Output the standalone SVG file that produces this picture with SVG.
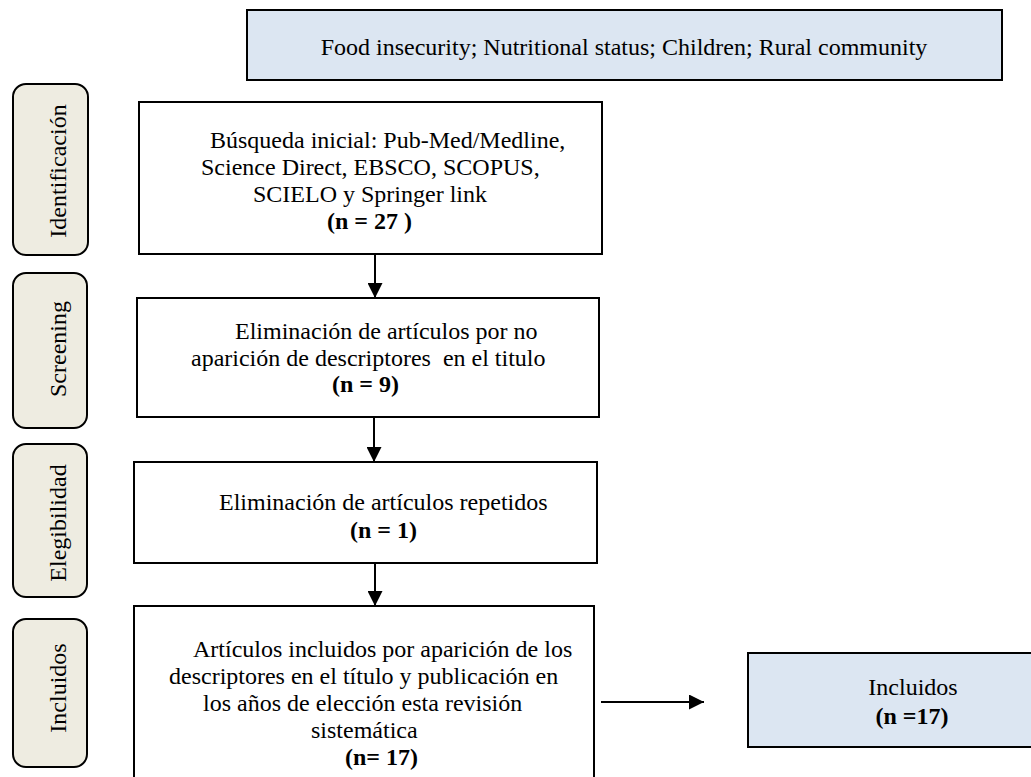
<svg xmlns="http://www.w3.org/2000/svg" width="1031" height="777" viewBox="0 0 1031 777">
<defs>
<style>
text{font-family:"Liberation Serif","Times New Roman",serif;font-size:24px;fill:#000}
.b{font-weight:bold}
.m{text-anchor:middle}
.box{fill:#fff;stroke:#000;stroke-width:2}
.blue{fill:#DCE6F2;stroke:#000;stroke-width:2}
.phase{fill:#EEECE1;stroke:#000;stroke-width:2}
.con{stroke:#000;stroke-width:2;fill:none}
</style>
<marker id="ah" markerWidth="15" markerHeight="15" refX="15" refY="7.5" orient="auto" markerUnits="userSpaceOnUse" viewBox="0 0 15 15">
<path d="M0,0 L15,7.5 L0,15 Z" fill="#000"/>
</marker>
</defs>
<g id="keywords">
<rect class="blue" x="247" y="10" width="755" height="70"/>
<text x="624" y="55" class="m">Food insecurity; Nutritional status; Children; Rural community</text>
</g>
<g id="phase-identificacion">
<rect class="phase" x="13" y="84" width="75" height="171" rx="13"/>
<text class="m" transform="translate(66,171) rotate(-90)">Identificación</text>
</g>
<g id="phase-screening">
<rect class="phase" x="13" y="273" width="74" height="155" rx="13"/>
<text class="m" transform="translate(66,349) rotate(-90)">Screening</text>
</g>
<g id="phase-elegibilidad">
<rect class="phase" x="13" y="444" width="74" height="153" rx="13"/>
<text class="m" transform="translate(66,523) rotate(-90)">Elegibilidad</text>
</g>
<g id="phase-incluidos">
<rect class="phase" x="13" y="619" width="74" height="148" rx="13"/>
<text class="m" transform="translate(66,688) rotate(-90)">Incluidos</text>
</g>
<g id="box-busqueda">
<rect class="box" x="139" y="102" width="463" height="152"/>
<text x="210" y="148">Búsqueda inicial: Pub-Med/Medline,</text>
<text x="201" y="175">Science Direct, EBSCO, SCOPUS,</text>
<text x="253" y="202">SCIELO y Springer link</text>
<text x="327" y="229" class="b">(n = 27 )</text>
</g>
<g id="box-screening">
<rect class="box" x="137" y="298" width="462" height="119"/>
<text x="235" y="339">Eliminación de artículos por no</text>
<text x="191" y="366" xml:space="preserve">aparición de descriptores  en el titulo</text>
<text x="332" y="392" class="b">(n = 9)</text>
</g>
<g id="box-elegibilidad">
<rect class="box" x="134" y="462" width="463" height="101"/>
<text x="219" y="510">Eliminación de artículos repetidos</text>
<text x="350" y="538" class="b">(n = 1)</text>
</g>
<g id="box-incluidos">
<rect class="box" x="134" y="606" width="460" height="190"/>
<text x="193" y="657">Artículos incluidos por aparición de los</text>
<text x="169" y="684">descriptores en el título y publicación en</text>
<text x="203" y="711">los años de elección esta revisión</text>
<text x="311" y="738">sistemática</text>
<text x="345" y="765" class="b">(n= 17)</text>
</g>
<g id="box-final">
<rect class="blue" x="748" y="653" width="330" height="94"/>
<text x="913" y="695" class="m">Incluidos</text>
<text x="912" y="724" class="m b">(n =17)</text>
</g>
<g id="connectors">
<line class="con" x1="375" y1="254" x2="375" y2="298" marker-end="url(#ah)"/>
<line class="con" x1="374" y1="417" x2="374" y2="462" marker-end="url(#ah)"/>
<line class="con" x1="375" y1="563" x2="375" y2="606" marker-end="url(#ah)"/>
<line class="con" x1="601" y1="702" x2="704" y2="702" marker-end="url(#ah)"/>
</g>
</svg>
